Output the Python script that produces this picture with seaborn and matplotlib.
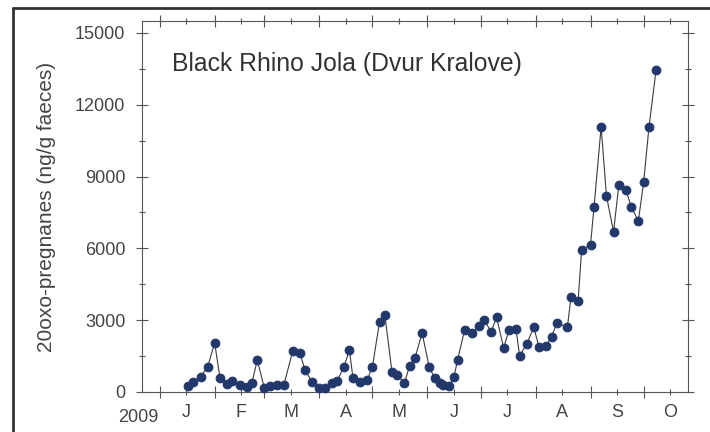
import pandas as pd
import numpy as np
import matplotlib
matplotlib.use('Agg')
import matplotlib.pyplot as plt
import matplotlib.dates as mdates
from matplotlib.ticker import MultipleLocator, NullFormatter, FuncFormatter
from matplotlib.lines import Line2D
import seaborn as sns

# sampling dates and faecal 20oxo-pregnane values
sample_dates = [
    '2009-01-17', '2009-01-20', '2009-01-24', '2009-01-28', '2009-02-01', '2009-02-04',
    '2009-02-08', '2009-02-11', '2009-02-15', '2009-02-19', '2009-02-22', '2009-02-25',
    '2009-03-01', '2009-03-04', '2009-03-08', '2009-03-12', '2009-03-17', '2009-03-21',
    '2009-03-24', '2009-03-28', '2009-04-01', '2009-04-04', '2009-04-08', '2009-04-11',
    '2009-04-15', '2009-04-18', '2009-04-20', '2009-04-24', '2009-04-28', '2009-05-01',
    '2009-05-05', '2009-05-08', '2009-05-12', '2009-05-15', '2009-05-19', '2009-05-22',
    '2009-05-25', '2009-05-29', '2009-06-02', '2009-06-05', '2009-06-08', '2009-06-10',
    '2009-06-13', '2009-06-16', '2009-06-18', '2009-06-22', '2009-06-26', '2009-06-30',
    '2009-07-03', '2009-07-07', '2009-07-10', '2009-07-14', '2009-07-17', '2009-07-21',
    '2009-07-23', '2009-07-27', '2009-07-31', '2009-08-03', '2009-08-07', '2009-08-10',
    '2009-08-13', '2009-08-19', '2009-08-21', '2009-08-25', '2009-08-27', '2009-09-01',
    '2009-09-03', '2009-09-07', '2009-09-10', '2009-09-14', '2009-09-17', '2009-09-21',
    '2009-09-24', '2009-09-28', '2009-10-01', '2009-10-04', '2009-10-08',
]
pregnanes = [
    250, 420, 630, 1050, 2050, 590,
    340, 460, 280, 210, 370, 1330,
    180, 250, 290, 290, 1700, 1650,
    900, 420, 170, 170, 370, 460,
    1060, 1750, 590, 400, 500, 1060,
    2930, 3220, 840, 710, 370, 1090,
    1420, 2470, 1050, 590, 380, 290,
    230, 630, 1340, 2590, 2470, 2760,
    3010, 2510, 3130, 1840, 2590, 2630,
    1500, 2010, 2700, 1870, 1930, 2300,
    2870, 2730, 3970, 3790, 5940, 6150,
    7730, 11080, 8190, 6690, 8650, 8440,
    7730, 7150, 8780, 11080, 13460,
]
y_ticks = [0, 3000, 6000, 9000, 12000, 15000]

title = 'Black Rhino Jola (Dvur Kralove)'
ylabel = '20oxo-pregnanes (ng/g faeces)'

sns.set_style('ticks')
plt.rcParams['font.family'] = ['Liberation Sans', 'DejaVu Sans']

df = pd.DataFrame({'date': pd.to_datetime(sample_dates), 'value': pregnanes})

fig = plt.figure(figsize=(7.1, 4.32), dpi=100)
ax = fig.add_axes([142 / 710, 40 / 432, 546 / 710, 371 / 432])

sns.lineplot(data=df, x='date', y='value', ax=ax, color='#3c3c3c', linewidth=0.8,
             marker='o', markersize=6.3, markerfacecolor='#22386b',
             markeredgecolor='#22386b', clip_on=False, zorder=3)

ax.set_xlim(pd.Timestamp('2008-12-22'), pd.Timestamp('2009-10-26'))
ax.set_ylim(0, 15500)

ax.xaxis.set_major_locator(mdates.MonthLocator())
ax.xaxis.set_major_formatter(NullFormatter())
ax.xaxis.set_minor_locator(mdates.MonthLocator(bymonthday=16))
ax.xaxis.set_minor_formatter(FuncFormatter(lambda v, p: mdates.num2date(v).strftime('%b')[0]))

ax.set_yticks(y_ticks)
ax.yaxis.set_minor_locator(MultipleLocator(1500))

grey = '#444444'
ax.tick_params(which='major', direction='inout', length=8, width=0.8,
               top=True, right=True, colors='#555555', labelcolor=grey, labelsize=13)
ax.tick_params(which='minor', direction='inout', length=4, width=0.8,
               top=True, right=True, colors='#555555', labelcolor=grey, labelsize=13)
ax.tick_params(axis='y', which='major', pad=8)
ax.tick_params(axis='x', which='minor', pad=6.5)

for s in ax.spines.values():
    s.set_color('#555555')
    s.set_linewidth(0.8)

ax.set_xlabel('')
ax.set_ylabel(ylabel, fontsize=15, color=grey)
ax.yaxis.set_label_coords(-0.157, 0.5)

ax.text(0.055, 0.885, title, transform=ax.transAxes, fontsize=17.8,
        va='center', ha='left', color='#333333')
ax.text(-0.007, -0.068, '2009', transform=ax.transAxes, fontsize=13,
        va='center', ha='center', color=grey)

# border of the scanned page
fig.add_artist(Line2D([13 / 710, 13 / 710], [0, 1 - 8 / 432], transform=fig.transFigure,
                      color='#333333', linewidth=2))
fig.add_artist(Line2D([13 / 710, 1], [1 - 8 / 432, 1 - 8 / 432], transform=fig.transFigure,
                      color='#333333', linewidth=2))

fig.savefig('out.png', dpi=100)
